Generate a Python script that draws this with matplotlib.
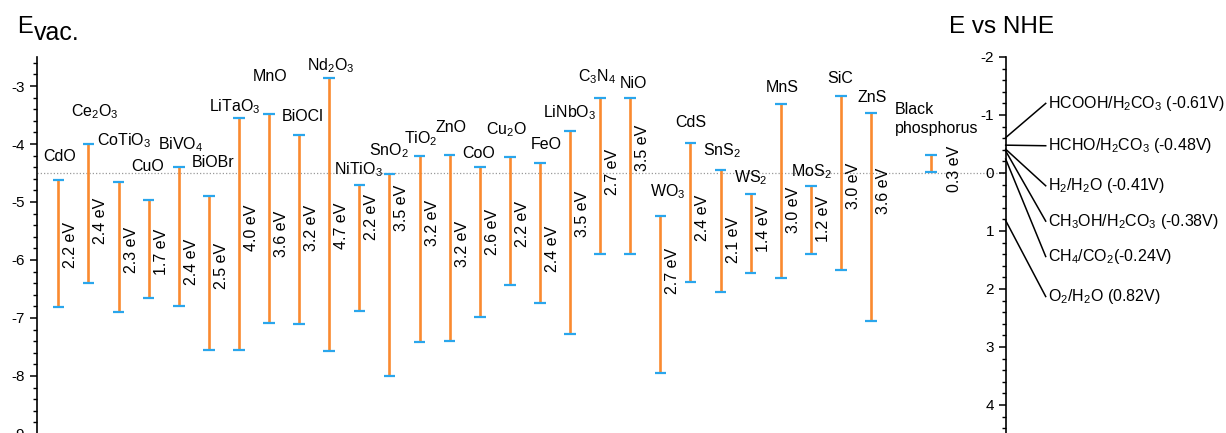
import matplotlib
matplotlib.use('AGG')
import matplotlib.pyplot as plt
from matplotlib.ticker import MultipleLocator
import numpy as np

plt.rcParams['font.family'] = ['Liberation Sans', 'DejaVu Sans']
plt.rcParams['mathtext.fontset'] = 'custom'
plt.rcParams['mathtext.rm'] = 'Liberation Sans'
plt.rcParams['mathtext.it'] = 'Liberation Sans:italic'
plt.rcParams['mathtext.bf'] = 'Liberation Sans:bold'

# band edges vs vacuum (eV)
materials = ['CdO', 'Ce$_2$O$_3$', 'CoTiO$_3$', 'CuO', 'BiVO$_4$', 'BiOBr', 'LiTaO$_3$', 'MnO',
             'BiOCl', 'Nd$_2$O$_3$', 'NiTiO$_3$', 'SnO$_2$', 'TiO$_2$', 'ZnO', 'CoO', 'Cu$_2$O',
             'FeO', 'LiNbO$_3$', 'C$_3$N$_4$', 'NiO', 'WO$_3$', 'CdS', 'SnS$_2$', 'WS$_2$', 'MnS',
             'MoS$_2$', 'SiC', 'ZnS', 'Black\nphosphorus']
cb = [-4.62, -4.00, -4.65, -4.97, -4.40, -4.90, -3.55, -3.49, -3.84, -2.87, -4.70, -4.51,
      -4.21, -4.19, -4.39, -4.22, -4.33, -3.77, -3.21, -3.21, -5.24, -3.99, -4.44, -4.86,
      -3.31, -4.72, -3.17, -3.47, -4.19]
vb = [-6.81, -6.40, -6.89, -6.66, -6.80, -7.56, -7.56, -7.09, -7.10, -7.57, -6.88, -8.00,
      -7.41, -7.40, -6.99, -6.43, -6.74, -7.27, -5.90, -5.90, -7.94, -6.38, -6.55, -6.22,
      -6.31, -5.90, -6.17, -7.06, -4.49]
band_gaps = ['2.2', '2.4', '2.3', '1.7', '2.4', '2.5', '4.0', '3.6', '3.2', '4.7', '2.2', '3.5',
             '3.2', '3.2', '2.6', '2.2', '2.4', '3.5', '2.7', '3.5', '2.7', '2.4', '2.1', '1.4',
             '3.0', '1.2', '3.0', '3.6', '0.3']

# redox potentials vs NHE
reactions = ['HCOOH/H$_2$CO$_3$ (-0.61V)', 'HCHO/H$_2$CO$_3$ (-0.48V)', 'H$_2$/H$_2$O (-0.41V)',
             'CH$_3$OH/H$_2$CO$_3$ (-0.38V)', 'CH$_4$/CO$_2$(-0.24V)', 'O$_2$/H$_2$O (0.82V)']
potentials = [-0.61, -0.48, -0.41, -0.38, -0.24, 0.82]

# layout tweaks (pixels) for the name / gap labels
name_dx = [1, 6, 6, -1, 2, 4, -4, 1, 4, 2, -1, 0, 1, 1, -1, -3, 6, 0, -3, 3, 7, 0, 2, 0, 2, 1, -1, 1, -36]
name_dy = [23, 32, 41, 34, 23, 34, 11, 38, 18, 13, 15, 23, 18, 28, 13, 27, 19, 18, 22, 15, 24,
           21, 19, 16, 16, 14, 17, 16, 36]
gap_dy = [2, 7, 3, 3, 25, -7, -6, 15, -1, 11, -31, -67, -26, -4, -10, 3, 16, -18, -4, -28, -23,
          5, 9, -5, 19, -1, 3, -26, 5]
reaction_label_y = [-1.2, -0.47, 0.22, 0.83, 1.44, 2.13]

W, H = 1226, 433
E_ref = -4.5
ymin, ymax = -9.3, -2.5
px_per_ev = 58.0
FS = 11.5


def main():
    fig = plt.figure(figsize=(W / 100, H / 100), dpi=100)
    left_px, right_px, top_px = 37, 1005.7, 57
    bot_px = top_px + (ymax - ymin) * px_per_ev
    ax_h = (bot_px - top_px) / H
    ax_b = (H - bot_px) / H
    ax = fig.add_axes([left_px / W, ax_b, (right_px - left_px) / W, ax_h])

    x = np.arange(len(materials), dtype=float)
    x[-1] += 1
    step = 30.1
    x0 = (58.3 - left_px) / step
    ax.set_xlim(-x0, -x0 + (right_px - left_px) / step)
    ax.set_ylim(ymin, ymax)

    orange = '#fa8a2f'
    blue = '#2aa6ec'
    ax.axhline(E_ref, color='#9a9a9a', lw=0.9, ls=(0, (1, 1.6)), zorder=1)
    ax.vlines(x, vb, cb, color=orange, lw=1.9, zorder=2)
    cap = 5.8 / step
    ax.hlines(cb, x - cap, x + cap, color=blue, lw=1.6, zorder=3)
    ax.hlines(vb, x - cap, x + cap, color=blue, lw=1.6, zorder=3)

    for i, name in enumerate(materials):
        if '\n' in name:
            ax.annotate(name, (x[i], cb[i]), xytext=(name_dx[i], name_dy[i]),
                        textcoords='offset pixels', ha='left', va='center', fontsize=FS,
                        linespacing=1.3)
        else:
            ax.annotate(name, (x[i], cb[i]), xytext=(name_dx[i], name_dy[i]),
                        textcoords='offset pixels', ha='center', va='center', fontsize=FS)
        gx = 23 if i == len(materials) - 1 else 12.5
        mid = (cb[i] + vb[i]) / 2
        ax.annotate(band_gaps[i] + ' eV', (x[i], mid), xytext=(gx, -gap_dy[i]),
                    textcoords='offset pixels', ha='center', va='center', rotation=90,
                    fontsize=FS)

    for s in ['top', 'right', 'bottom']:
        ax.spines[s].set_visible(False)
    ax.spines['left'].set_linewidth(1.2)
    ax.set_xticks([])
    ax.yaxis.set_major_locator(MultipleLocator(1))
    ax.yaxis.set_minor_locator(MultipleLocator(0.2))
    ax.tick_params(axis='y', which='major', length=5, width=1.1, labelsize=11, pad=3.5)
    ax.tick_params(axis='y', which='minor', length=3, width=1.0)
    ax.set_yticks(np.arange(-9, -2))
    ax.set_yticklabels(['%d' % v for v in np.arange(-9, -2)])
    ax.patch.set_alpha(0)

    # NHE axis on the right
    ax2 = fig.add_axes([right_px / W, ax_b, (W - right_px) / W, ax_h])
    ax2.set_xlim(0, W - right_px)
    ax2.set_ylim(E_ref - ymin, E_ref - ymax)
    for s in ['top', 'right', 'bottom']:
        ax2.spines[s].set_visible(False)
    ax2.spines['left'].set_linewidth(1.2)
    ax2.set_xticks([])
    ax2.yaxis.set_major_locator(MultipleLocator(1))
    ax2.yaxis.set_minor_locator(MultipleLocator(0.2))
    ax2.tick_params(axis='y', which='major', length=5, width=1.1, labelsize=11, pad=3.5)
    ax2.tick_params(axis='y', which='minor', length=3, width=1.0)
    ax2.set_yticks(np.arange(-2, 5))
    ax2.set_yticklabels(['%d' % v for v in np.arange(-2, 5)])
    ax2.patch.set_alpha(0)

    for name, pot, ly in zip(reactions, potentials, reaction_label_y):
        ax2.plot([0, 40], [pot, ly], color='black', lw=1.1, clip_on=False)
        ax2.text(42, ly, name, ha='left', va='center', fontsize=FS)

    fig.text(17 / W, 1 - 33 / H, 'E', fontsize=17, va='baseline', ha='left')
    fig.text(34 / W, 1 - 40 / H, 'vac.', fontsize=18, va='baseline', ha='left')
    fig.text(949 / W, 1 - 33 / H, 'E vs NHE', fontsize=17.5, va='baseline', ha='left')

    fig.savefig('out.png', dpi=100)


if "__main__" in __name__:
    main()
